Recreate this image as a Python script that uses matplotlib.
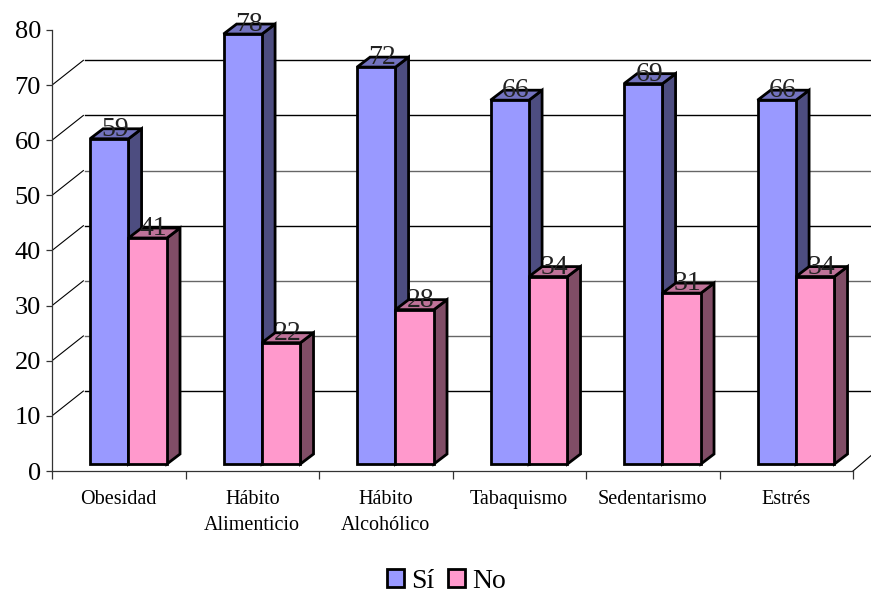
import matplotlib
matplotlib.use("Agg")
import matplotlib.pyplot as plt
from matplotlib.patches import Patch, Polygon

categories = ["Obesidad", "Hábito\nAlimenticio", "Hábito\nAlcohólico",
              "Tabaquismo", "Sedentarismo", "Estrés"]
si_values = [59, 78, 72, 66, 69, 66]
no_values = [41, 22, 28, 34, 31, 34]
y_ticks = [0, 10, 20, 30, 40, 50, 60, 70, 80]
grid_values = [10, 20, 30, 40, 50, 60, 70]
grey_grid = [20, 30, 50]

# fake 3D offsets, in data units (1 category wide, 80 units tall)
BAR_W = 0.288
BAR_X0 = 0.285
FRONT_DY = 1.27
DEPTH_X = 0.098
DEPTH_Y = 1.81
WALL_X = 0.25
WALL_Y = 4.5

plt.rcParams["font.family"] = ["Liberation Serif", "DejaVu Serif"]

fig = plt.figure(figsize=(8.71, 5.93), dpi=100)
ax = fig.add_axes([52 / 871, 1 - 471 / 593, 801 / 871, 441 / 593])
ax.set_xlim(0, 6)
ax.set_ylim(0, 80)
for side in ("top", "right"):
    ax.spines[side].set_visible(False)
for side in ("left", "bottom"):
    ax.spines[side].set_color("#333333")
    ax.spines[side].set_linewidth(0.9)

ax.set_yticks(y_ticks)
ax.tick_params(axis="y", labelsize=19, length=4, width=0.9, pad=4, color="#333333")
ax.set_xticks(range(7))
ax.set_xticklabels([])
ax.tick_params(axis="x", which="major", length=6, width=0.9, color="#333333")
ax.set_xticks([i + 0.5 for i in range(6)], minor=True)
ax.set_xticklabels(categories, minor=True, fontsize=14.5, linespacing=1.45)
ax.tick_params(axis="x", which="minor", length=0, pad=14)

# back wall gridlines and the slanted lines joining them to the axis
for v in grid_values:
    col = "#666666" if v in grey_grid else "black"
    ax.plot([WALL_X, 6.14], [v + WALL_Y, v + WALL_Y], color=col, lw=1, zorder=1,
            clip_on=False)
    ax.plot([0, WALL_X - 0.015], [v, v + WALL_Y], color="black", lw=0.8, zorder=1)
ax.plot([6, 6.14], [0, 2.9], color="black", lw=0.8, zorder=1, clip_on=False)


def draw_bar(x, value, front, side, top, z):
    y0 = FRONT_DY
    y1 = y0 + value
    x1 = x + BAR_W
    edge = dict(edgecolor="black", linewidth=2.0, joinstyle="miter", clip_on=False)
    ax.add_patch(Polygon([(x1, y0), (x1 + DEPTH_X, y0 + DEPTH_Y),
                          (x1 + DEPTH_X, y1 + DEPTH_Y), (x1, y1)],
                         facecolor=side, zorder=z, **edge))
    ax.add_patch(Polygon([(x, y1), (x1, y1), (x1 + DEPTH_X, y1 + DEPTH_Y),
                          (x + DEPTH_X, y1 + DEPTH_Y)],
                         facecolor=top, zorder=z, **edge))
    # value label sits on the top face, the front face covers its lower edge
    ax.text(x + BAR_W / 2 + 0.045, y1 - 0.55, str(value), ha="center", va="bottom",
            fontsize=20, color="#222222", zorder=z + 0.1, clip_on=False)
    ax.add_patch(Polygon([(x, y0), (x1, y0), (x1, y1), (x, y1)],
                         facecolor=front, zorder=z + 0.2, **edge))


for i in range(6):
    draw_bar(i + BAR_X0, si_values[i], "#9999FF", "#4D4D80", "#7373BF", 3)
    draw_bar(i + BAR_X0 + BAR_W, no_values[i], "#FF99CC", "#804D66", "#BF7399", 4)

handles = [Patch(facecolor="#9999FF", edgecolor="black", linewidth=2, label="Sí"),
           Patch(facecolor="#FF99CC", edgecolor="black", linewidth=2, label="No")]
fig.legend(handles=handles, loc="center", bbox_to_anchor=(446.5 / 871, 1 - 581 / 593),
           ncol=2, frameon=False, fontsize=20, handlelength=0.61, handleheight=0.61,
           handletextpad=0.25, columnspacing=0.5, borderpad=0, borderaxespad=0)

fig.savefig("out.png", dpi=100)
